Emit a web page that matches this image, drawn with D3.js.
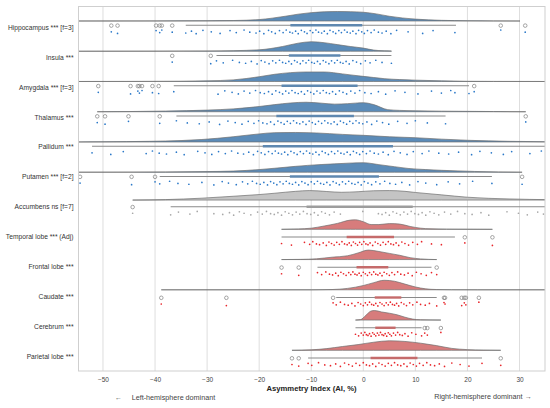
<!DOCTYPE html>
<html>
<head>
<meta charset="utf-8">
<script src="https://cdn.jsdelivr.net/npm/d3@7"></script>
<style>
  body { margin: 0; background: #fff; }
  text { font-family: "Liberation Sans", Arial, sans-serif; }
</style>
</head>
<body>
<div id="chart"></div>
<script>
// data (AI values in %)
const rowLabels = [
  'Hippocampus *** [f=3]', 'Insula ***', 'Amygdala *** [f=3]', 'Thalamus ***',
  'Pallidum ***', 'Putamen *** [f=2]', 'Accumbens ns [f=7]', 'Temporal lobe *** (Adj)',
  'Frontal lobe ***', 'Caudate ***', 'Cerebrum ***', 'Parietal lobe ***'
];
const rowGroup = ['L', 'L', 'L', 'L', 'L', 'L', 'N', 'R', 'R', 'R', 'R', 'R'];

const whiskerLo = [-34.1, -28.2, -36.4, -35.9, -52.1, -39.1, -37.0, -15.7, -8.8, -5.2, -1.5, -10.6];
const boxQ1     = [-14.0, -14.3, -15.7, -16.7, -19.3, -14.1, -10.9, -3.2, -1.3, 2.2, 2.3, 1.4];
const boxQ3     = [-0.2, -4.4, -1.1, -1.8, 5.7, 3.0, 9.5, 5.9, 4.8, 7.3, 6.2, 10.4];
const whiskerHi = [17.8, 5.4, 20.3, 15.8, 36, 24.7, 36, 17.6, 13.1, 14.1, 11.2, 22.8];

const outliers = [
  [-48.4, -47.2, -39.8, -39.1, -38.7, -36.7, 26.4, 31.1],
  [-36.7, -29.3],
  [-50.9, -44.7, -43.3, -43.0, -42.5, -40.5, -39.3, 21.3],
  [-51.1, -49.6, -45.1, -39.1, 31.2],
  [],
  [-54.4, -44.5, -40.0, 30.5],
  [-44.3],
  [19.5, 24.8],
  [-15.7, -12.4, 14.1],
  [-38.8, -26.3, -5.8, 15.5, 15.7, 18.9, 19.4, 19.7, 22.2],
  [11.8, 12.3, 14.9],
  [-13.7, -12.4, 26.4]
];

const dots = [
  [-48.4, -47.2, -39.8, -39.1, -38.7, -36.7, -34.1, -33, -32.1, -30.8, -29.2, -27.5, -25.6, -24.4, -22.9, -21.8,
   -20.6, -19.9, -19.1, -18.2, -17.6, -16.9, -16.1, -15.4, -14.8, -14.1, -13.6, -13.0, -12.5, -11.9, -11.3, -10.8,
   -10.2, -9.7, -9.1, -8.6, -8.0, -7.5, -6.9, -6.4, -5.8, -5.3, -4.7, -4.2, -3.6, -3.1, -2.5, -2.0, -1.4, -0.9,
   -0.3, 0.2, 0.8, 1.5, 2.1, 2.9, 3.6, 4.4, 5.3, 6.4, 8.6, 11.4, 13.4, 17.6, 26.4, 31.1],
  [-36.7, -29.3, -28.2, -26.9, -25.1, -23.8, -22.6, -21.5, -20.4, -19.6, -18.9, -18.1, -17.4, -16.8, -16.1, -15.5,
   -14.9, -14.3, -13.8, -13.2, -12.7, -12.1, -11.6, -11.0, -10.5, -9.9, -9.4, -8.8, -8.3, -7.7, -7.2, -6.6, -6.1,
   -5.5, -5.0, -4.4, -3.9, -3.3, -2.7, -2.0, -1.3, -0.5, 0.4, 1.3, 2.4, 3.6, 5.4],
  [-50.9, -44.7, -43.3, -43.0, -42.5, -40.5, -39.3, -36.4, -27.9, -26.6, -25.2, -24.0, -22.9, -21.8, -20.7, -19.8,
   -19.0, -18.2, -17.5, -16.8, -16.1, -15.5, -14.9, -14.3, -13.7, -13.1, -12.5, -11.9, -11.3, -10.7, -10.1, -9.5,
   -8.9, -8.3, -7.7, -7.1, -6.5, -5.9, -5.3, -4.6, -3.9, -3.2, -2.4, -1.6, -0.7, 0.3, 1.5, 2.9, 4.3, 6.1, 8.0,
   10.5, 13.1, 15.0, 16.8, 17.6, 20.3, 21.3],
  [-51.1, -49.6, -45.1, -39.1, -35.9, -33.8, -31.5, -29.6, -27.6, -26.0, -24.6, -23.3, -22.1, -21.0, -20.1, -19.3,
   -18.5, -17.8, -17.1, -16.4, -15.8, -15.2, -14.6, -14.0, -13.4, -12.8, -12.2, -11.6, -11.0, -10.4, -9.8, -9.2,
   -8.6, -8.0, -7.4, -6.8, -6.2, -5.6, -5.0, -4.4, -3.8, -3.2, -2.6, -2.0, -1.4, -0.8, -0.1, 0.7, 1.6, 2.6, 3.7,
   4.9, 6.6, 8.4, 10.0, 12.3, 15.8, 31.2],
  [-52.1, -48.5, -46.1, -41.7, -40.5, -39.2, -37.8, -35.9, -34.4, -31.8, -30.4, -29.1, -27.8, -26.5, -25.3, -24.1,
   -23.0, -22.0, -21.1, -20.3, -19.6, -18.9, -18.2, -17.5, -16.9, -16.3, -15.7, -15.1, -14.5, -13.9, -13.3, -12.7,
   -12.1, -11.5, -10.9, -10.3, -9.7, -9.1, -8.5, -7.9, -7.3, -6.7, -6.1, -5.5, -4.9, -4.3, -3.7, -3.1, -2.5, -1.9,
   -1.3, -0.7, -0.1, 0.6, 1.3, 2.1, 2.9, 3.8, 4.8, 5.9, 7.1, 8.4, 9.6, 11.3, 12.6, 14.5, 16.4, 18.3, 20.8, 22.4,
   24.6, 26.9, 28.5, 32.0, 34.2],
  [-54.4, -44.5, -40.0, -39.1, -37.2, -35.6, -33.5, -31.0, -28.7, -27.1, -25.9, -24.4, -23.2, -22.2, -21.3, -20.5,
   -19.8, -19.1, -18.4, -17.8, -17.2, -16.6, -16.0, -15.4, -14.8, -14.2, -13.6, -13.0, -12.4, -11.8, -11.2, -10.6,
   -10.0, -9.4, -8.8, -8.2, -7.6, -7.0, -6.4, -5.8, -5.2, -4.6, -4.0, -3.4, -2.8, -2.2, -1.6, -1.0, -0.4, 0.2, 0.9,
   1.6, 2.4, 3.2, 4.1, 5.1, 6.2, 7.4, 8.9, 10.5, 12.0, 14.1, 16.3, 18.5, 21.0, 24.7, 30.5],
  [-44.3, -37.0, -35.5, -33.3, -31.9, -28.7, -27.0, -25.7, -24.9, -23.8, -22.9, -21.6, -20.3, -19.4, -18.6, -17.8,
   -17.1, -16.4, -15.7, -15.0, -14.3, -13.6, -12.9, -12.2, -11.5, -10.8, -10.1, -9.4, -8.7, -8.0, -7.3, -6.5, -5.6,
   -4.4, -0.1, 2.9, 3.6, 4.3, 5.0, 5.7, 6.4, 7.1, 7.8, 8.5, 9.2, 9.9, 10.6, 11.3, 12.0, 12.8, 13.6, 14.5, 15.6,
   16.8, 18.1, 19.5, 20.9, 22.6, 24.1, 27.6, 29.8, 31.5, 33.5, 34.6],
  [-15.7, -13.8, -11.3, -10.3, -9.7, -9.0, -8.4, -7.7, -7.1, -6.6, -6.1, -5.6, -5.1, -4.6, -4.1, -3.6, -3.1, -2.7,
   -2.3, -1.9, -1.5, -1.1, -0.7, -0.3, 0.1, 0.5, 0.9, 1.3, 1.8, 2.3, 2.8, 3.3, 3.8, 4.3, 4.8, 5.3, 5.8, 6.3, 6.8,
   7.4, 8.0, 8.7, 9.5, 10.4, 11.2, 13.1, 15.0, 19.5, 24.8],
  [-15.7, -12.4, -8.8, -8.0, -7.2, -6.5, -5.9, -5.3, -4.8, -4.3, -3.8, -3.3, -2.8, -2.4, -2.0, -1.6, -1.2, -0.8,
   -0.4, 0.0, 0.4, 0.8, 1.2, 1.6, 2.0, 2.4, 2.8, 3.2, 3.6, 4.0, 4.5, 5.0, 5.5, 6.0, 6.6, 7.2, 7.9, 8.6, 9.4, 10.2,
   11.1, 12.1, 13.1, 14.1],
  [-38.8, -26.3, -5.8, -5.2, -4.4, -3.6, -2.9, -2.2, -1.6, -1.0, -0.5, 0.0, 0.4, 0.8, 1.2, 1.6, 2.0, 2.4, 2.8, 3.2,
   3.6, 4.0, 4.4, 4.8, 5.2, 5.6, 6.0, 6.4, 6.8, 7.3, 7.8, 8.3, 8.9, 9.5, 10.3, 11.0, 11.9, 12.7, 14.1, 15.5, 15.7,
   18.9, 19.4, 19.7, 22.2],
  [-1.5, -0.9, -0.4, 0.0, 0.3, 0.6, 0.9, 1.2, 1.5, 1.8, 2.1, 2.4, 2.7, 3.0, 3.3, 3.6, 3.9, 4.2, 4.5, 4.8, 5.1, 5.4,
   5.8, 6.2, 6.6, 7.0, 7.5, 8.0, 8.6, 9.3, 10.1, 11.2, 11.8, 12.3, 14.9],
  [-13.7, -12.4, -10.6, -9.9, -8.6, -7.4, -6.3, -5.3, -4.4, -3.6, -2.8, -2.1, -1.4, -0.7, 0.0, 0.6, 1.2, 1.8, 2.4,
   3.0, 3.6, 4.2, 4.8, 5.4, 6.0, 6.6, 7.2, 7.8, 8.4, 9.0, 9.6, 10.2, 10.8, 11.5, 12.2, 12.9, 13.7, 14.6, 15.6,
   17.0, 18.6, 20.3, 22.8, 26.4]
];

// half-violin outlines: [AI value, relative density]
const densities = [
  [[-56, 0], [-40, 0.01], [-30, 0.03], [-25, 0.05], [-20, 0.15], [-17.5, 0.3], [-15, 0.5], [-12.5, 0.72], [-10, 0.88],
   [-7.5, 0.97], [-5, 1.0], [-2.5, 0.98], [0, 0.92], [2.5, 0.75], [5, 0.5], [7.5, 0.32], [10, 0.2], [15, 0.07],
   [20, 0.03], [25, 0.01], [30.1, 0]],
  [[-56, 0], [-40, 0.01], [-30, 0.03], [-25, 0.06], [-20, 0.15], [-15.5, 0.5], [-12.5, 0.85], [-10, 1.0], [-7.5, 0.9],
   [-5, 0.7], [-2.5, 0.5], [0, 0.33], [2, 0.12], [4, 0.05], [5.4, 0.03]],
  [[-56, 0], [-45, 0.01], [-35, 0.03], [-30, 0.07], [-25, 0.17], [-20, 0.5], [-17, 0.76], [-14, 0.93], [-11, 1.0],
   [-7.5, 1.0], [-4, 0.8], [-1, 0.6], [2, 0.42], [4, 0.3], [7, 0.2], [10, 0.14], [15, 0.07], [20, 0.02], [25, 0.01],
   [36, 0]],
  [[-51.1, 0], [-45, 0.02], [-38, 0.07], [-30, 0.17], [-25, 0.3], [-20, 0.55], [-17, 0.75], [-14, 0.92], [-11, 1.0],
   [-8, 0.9], [-5.5, 0.8], [-3, 0.85], [0, 0.95], [2, 0.75], [4.7, 0.22], [7, 0.14], [10, 0.1], [15, 0.06], [20, 0.04],
   [25, 0.02], [31.2, 0]],
  [[-56, 0], [-50, 0.02], [-41, 0.07], [-35, 0.15], [-31, 0.26], [-25, 0.55], [-20, 0.85], [-17, 0.98], [-13, 1.0],
   [-9, 0.95], [-4, 0.8], [0, 0.7], [5, 0.55], [10, 0.45], [15, 0.3], [20, 0.18], [28, 0.07], [36, 0.02]],
  [[-56, 0], [-45, 0.01], [-38, 0.03], [-30, 0.07], [-25, 0.12], [-20, 0.28], [-17, 0.42], [-13, 0.62], [-10.7, 0.72],
   [-5.5, 0.88], [0, 1.0], [3, 0.8], [6, 0.58], [8.6, 0.4], [12, 0.28], [15, 0.2], [21.4, 0.08], [26, 0.03], [30.5, 0]],
  [[-44.3, 0], [-38, 0.05], [-31, 0.2], [-25, 0.4], [-20, 0.58], [-17, 0.72], [-13, 0.92], [-10.3, 1.0], [-7, 0.9],
   [-4.2, 0.82], [-1, 0.88], [2, 0.98], [5, 1.0], [8, 0.92], [10, 0.8], [15, 0.55], [20, 0.3], [28, 0.12], [36, 0.04]],
  [[-15.7, 0], [-12.5, 0.04], [-10, 0.12], [-7.5, 0.35], [-5, 0.62], [-2.5, 0.97], [-1.5, 1.0], [0, 0.8], [1.5, 0.5],
   [3, 0.5], [5, 0.6], [7, 0.55], [9, 0.3], [11, 0.12], [13, 0.05], [16, 0.02], [20, 0.01], [24.8, 0]],
  [[-15.7, 0], [-12, 0.02], [-9, 0.08], [-6, 0.25], [-3, 0.4], [-1, 0.7], [1, 1.0], [3, 0.85], [5, 0.65], [7, 0.45],
   [9, 0.2], [11, 0.07], [14.1, 0]],
  [[-38.8, 0], [-10, 0], [-6, 0.03], [-3, 0.15], [0, 0.45], [2, 0.75], [4, 1.0], [6, 0.9], [8, 0.6], [10, 0.3],
   [12, 0.1], [14, 0.03], [17, 0.01], [22, 0], [36, 0]],
  [[-1.5, 0], [-0.5, 0.05], [0.5, 0.5], [1.5, 0.95], [2.2, 1.0], [3.5, 0.85], [5, 0.72], [6.5, 0.55], [8, 0.3],
   [9.5, 0.1], [11, 0.03], [14.9, 0]],
  [[-13.7, 0], [-10, 0.05], [-7, 0.18], [-4, 0.4], [-1, 0.6], [2, 0.85], [5, 1.0], [8, 0.93], [11, 0.75], [14, 0.5],
   [17, 0.2], [20, 0.07], [23, 0.02], [26.4, 0]]
];

const xTicks = [-50, -40, -30, -20, -10, 0, 10, 20, 30];

const groupStyle = {
  L: { fill: '#5b8bb8', iqr: '#5f88b0', dot: '#2a78c8', base: -4.3 },
  N: { fill: '#c4c4c4', iqr: '#9d9d9d', dot: '#a8a8a8', base: -6.7 },
  R: { fill: '#d77c7c', iqr: '#c56b6b', dot: '#e8262b', base: -7.7 }
};
const jitter = [0, 1.6, -1.2, 0.8, -1.8, 0.4, 1.2, -0.6, 1.9, -1.5];

const width = 550, height = 408;
const plot = { left: 78.5, right: 545, top: 6.5, bottom: 371 };
const violinH = 9.5;

const svg = d3.select('#chart')
              .append('svg')
              .attr('width', width)
              .attr('height', height);

const x = d3.scaleLinear().domain([-54.7, 34.9]).range([plot.left, plot.right]);
const yBox = d3.scalePoint().domain(rowLabels).range([25.3, 358]);
const yLab = d3.scalePoint().domain(rowLabels).range([27.3, 356.8]);

svg.append('clipPath').attr('id', 'clip')
   .append('rect')
   .attr('x', plot.left).attr('y', plot.top)
   .attr('width', plot.right - plot.left).attr('height', plot.bottom - plot.top);

// grid
svg.append('g')
   .selectAll('line')
   .data(xTicks)
   .enter().append('line')
   .attr('x1', d => x(d)).attr('x2', d => x(d))
   .attr('y1', plot.top).attr('y2', plot.bottom)
   .attr('stroke', '#dedede')
   .attr('stroke-width', 1);

const g = svg.append('g').attr('clip-path', 'url(#clip)');

rowLabels.forEach((name, i) => {
  const st = groupStyle[rowGroup[i]];
  const yb = yBox(name);
  const base = yb + st.base;

  const area = d3.area()
                 .x(d => x(d[0]))
                 .y0(base)
                 .y1(d => base - d[1] * violinH)
                 .curve(d3.curveMonotoneX);

  g.append('path')
   .datum(densities[i])
   .attr('d', area)
   .attr('fill', st.fill)
   .attr('stroke', '#6e6e6e')
   .attr('stroke-width', 0.7);

  // whiskers
  g.append('line')
   .attr('x1', x(whiskerLo[i])).attr('x2', x(whiskerHi[i]))
   .attr('y1', yb).attr('y2', yb)
   .attr('stroke', '#8a8a8a')
   .attr('stroke-width', 1.1);

  // IQR
  g.append('line')
   .attr('x1', x(boxQ1[i])).attr('x2', x(boxQ3[i]))
   .attr('y1', yb).attr('y2', yb)
   .attr('stroke', st.iqr)
   .attr('stroke-width', 2.4);

  g.append('g')
   .selectAll('circle')
   .data(outliers[i])
   .enter().append('circle')
   .attr('cx', d => x(d))
   .attr('cy', yb + 0.3)
   .attr('r', 1.8)
   .attr('fill', 'none')
   .attr('stroke', '#808080')
   .attr('stroke-width', 0.7);

  g.append('g')
   .selectAll('circle')
   .data(dots[i])
   .enter().append('circle')
   .attr('cx', d => x(d))
   .attr('cy', (d, k) => yb + 6.5 + jitter[k % jitter.length])
   .attr('r', 0.85)
   .attr('fill', st.dot);
});

// frame
svg.append('rect')
   .attr('x', plot.left).attr('y', plot.top)
   .attr('width', plot.right - plot.left).attr('height', plot.bottom - plot.top)
   .attr('fill', 'none')
   .attr('stroke', '#cfcfcf')
   .attr('stroke-width', 1);

// row labels
svg.append('g')
   .selectAll('text')
   .data(rowLabels)
   .enter().append('text')
   .attr('x', 73.5)
   .attr('y', d => yLab(d))
   .attr('dy', '0.35em')
   .attr('text-anchor', 'end')
   .attr('font-size', 6.7)
   .attr('fill', '#333')
   .text(d => d);

// x axis
const xAxis = svg.append('g')
                 .attr('transform', `translate(0,${plot.bottom})`)
                 .call(d3.axisBottom(x).tickValues(xTicks).tickSize(0).tickPadding(6));
xAxis.select('.domain').remove();
xAxis.selectAll('text')
     .attr('font-size', 6.5)
     .attr('font-family', '"Liberation Sans", Arial, sans-serif')
     .attr('fill', '#444');

svg.append('text')
   .attr('x', 311.5).attr('y', 390.5)
   .attr('text-anchor', 'middle')
   .attr('font-size', 7.7)
   .attr('font-weight', 'bold')
   .attr('fill', '#222')
   .text('Asymmetry Index (AI, %)');

svg.append('text')
   .attr('x', 114.5).attr('y', 399.8)
   .attr('font-size', 7.2)
   .attr('fill', '#444')
   .text('←');
svg.append('text')
   .attr('x', 131.7).attr('y', 399.8)
   .attr('font-size', 7.2)
   .attr('fill', '#444')
   .text('Left-hemisphere dominant');
svg.append('text')
   .attr('x', 531.7).attr('y', 398.5)
   .attr('text-anchor', 'end')
   .attr('font-size', 7.2)
   .attr('fill', '#444')
   .text('Right-hemisphere dominant →');
</script>
</body>
</html>
